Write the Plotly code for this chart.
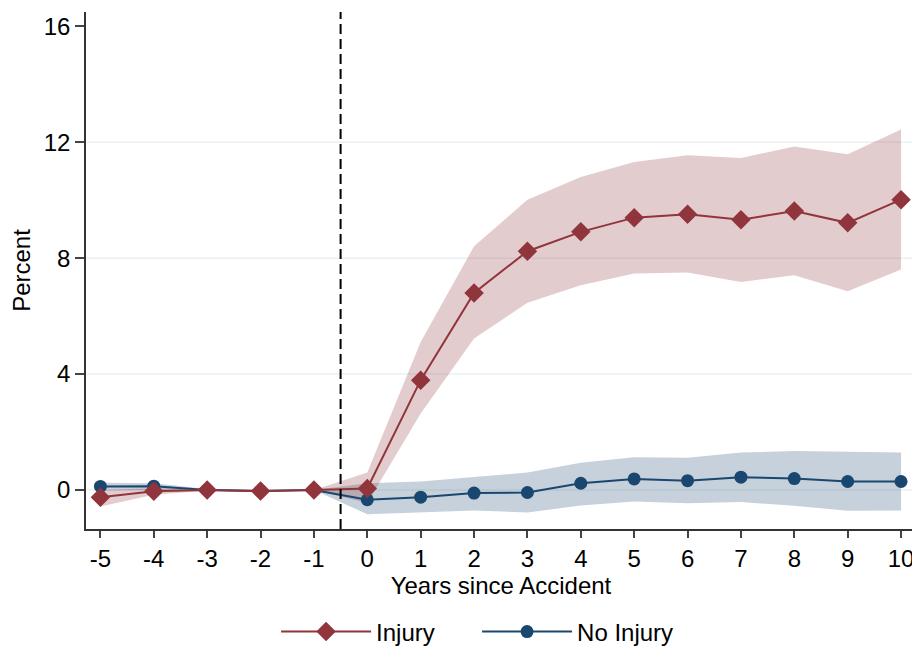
import plotly.graph_objects as go

years = [-5, -4, -3, -2, -1, 0, 1, 2, 3, 4, 5, 6, 7, 8, 9, 10]
year_labels = ["-5", "-4", "-3", "-2", "-1", "0", "1", "2", "3", "4", "5", "6", "7", "8", "9", "10"]

injury = [-0.25, -0.05, 0.0, -0.04, 0.0, 0.05, 3.79, 6.80, 8.24, 8.91, 9.40, 9.52, 9.33, 9.63, 9.22, 10.02]
injury_hi = [0.0, 0.06, 0.03, 0.0, 0.0, 0.60, 5.11, 8.41, 10.02, 10.80, 11.32, 11.55, 11.46, 11.86, 11.59, 12.44]
injury_lo = [-0.57, -0.17, -0.03, -0.07, 0.0, -0.45, 2.64, 5.23, 6.46, 7.07, 7.47, 7.51, 7.18, 7.41, 6.86, 7.61]

noinj = [0.12, 0.13, 0.0, -0.04, 0.0, -0.34, -0.25, -0.11, -0.09, 0.23, 0.38, 0.32, 0.44, 0.39, 0.29, 0.29]
noinj_hi = [0.25, 0.23, 0.03, 0.0, 0.0, 0.23, 0.29, 0.44, 0.60, 0.94, 1.13, 1.11, 1.29, 1.34, 1.31, 1.29]
noinj_lo = [-0.02, 0.0, -0.03, -0.07, 0.0, -0.84, -0.78, -0.71, -0.78, -0.54, -0.40, -0.46, -0.42, -0.55, -0.72, -0.71]

y_ticks = [0, 4, 8, 12, 16]
grid_vals = [0, 4, 8, 12]
event_line = -0.5

RED = "#90353b"
BLUE = "#1a476f"
RED_BAND = "rgba(144,53,59,0.25)"
BLUE_BAND = "rgba(26,71,111,0.25)"
FONT = "Liberation Sans, Arial, sans-serif"

fig = go.Figure()

fig.add_trace(go.Scatter(x=years + years[::-1], y=noinj_hi + noinj_lo[::-1], fill="toself",
                         fillcolor=BLUE_BAND, line=dict(width=0), mode="lines",
                         showlegend=False, hoverinfo="skip"))
fig.add_trace(go.Scatter(x=years + years[::-1], y=injury_hi + injury_lo[::-1], fill="toself",
                         fillcolor=RED_BAND, line=dict(width=0), mode="lines",
                         showlegend=False, hoverinfo="skip"))

fig.add_trace(go.Scatter(x=years, y=noinj, mode="lines+markers", name="No Injury",
                         line=dict(color=BLUE, width=2),
                         marker=dict(symbol="circle", size=13, color=BLUE), legendrank=2))
fig.add_trace(go.Scatter(x=years, y=injury, mode="lines+markers", name="Injury",
                         line=dict(color=RED, width=2),
                         marker=dict(symbol="diamond", size=15, color=RED), legendrank=1))

shapes = []
for g in grid_vals:
    shapes.append(dict(type="line", xref="paper", x0=0, x1=1, yref="y", y0=g, y1=g,
                       line=dict(color="#eaf0f3", width=1.5), layer="below"))
shapes.append(dict(type="line", xref="x", x0=event_line, x1=event_line, yref="paper", y0=0, y1=1,
                   line=dict(color="black", width=2, dash="10px,5px")))

fig.update_layout(
    width=912, height=641,
    margin=dict(l=78, r=4, t=4, b=120),
    paper_bgcolor="white", plot_bgcolor="white",
    font=dict(family=FONT, size=24, color="black"),
    shapes=shapes,
    showlegend=True,
    legend=dict(orientation="h", x=0.229, xanchor="left", yref="container", y=0.0265, yanchor="middle",
                font=dict(size=24), itemwidth=90, traceorder="normal",
                entrywidth=96, entrywidthmode="pixels"),
    xaxis=dict(range=[-5.27, 10.28], tickmode="array", tickvals=years, ticktext=year_labels,
               ticks="outside", ticklen=7, tickcolor="#444", tickwidth=1.5, showgrid=False, zeroline=False,
               showline=True, linecolor="#333", linewidth=1.5, automargin=False,
               title=dict(text="Years since Accident", standoff=0, font=dict(size=24))),
    yaxis=dict(range=[-1.35, 16.5], tickmode="array", tickvals=y_ticks,
               ticks="outside", ticklen=9, tickcolor="#444", tickwidth=1.5, showgrid=False, zeroline=False,
               showline=True, linecolor="#333", linewidth=1.5, automargin=False,
               title=dict(text="Percent", standoff=17, font=dict(size=24))),
)

fig.write_html("out.html")
